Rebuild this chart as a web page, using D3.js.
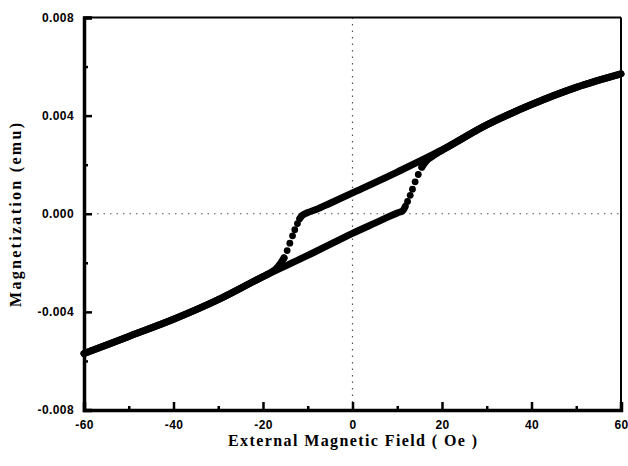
<!DOCTYPE html>
<html>
<head>
<meta charset="utf-8">
<script src="https://cdn.jsdelivr.net/npm/d3@7"></script>
<style>
  body { margin: 0; background: #fff; }
  svg { display: block; }
</style>
</head>
<body>
<div id="chart"></div>
<script>
var width = 628,
    height = 466;

var margin = {left: 84, top: 17.5, right: 7, bottom: 56};

// axis ticks
var xTicks = [-60, -40, -20, 0, 20, 40, 60];
var xTickLabels = ["-60", "-40", "-20", "0", "20", "40", "60"];
var xMinor = [-50, -30, -10, 10, 30, 50];
var yTicks = [-0.008, -0.004, 0, 0.004, 0.008];
var yTickLabels = ["-0.008", "-0.004", "0.000", "0.004", "0.008"];
var yMinor = [-0.006, -0.002, 0.002, 0.006];

// field sweep +60 -> -60 (upper branch)
var downField  = [60, 50, 40, 30, 20, 10, 0, -5, -8, -10, -11.2, -11.8];
var downMoment = [0.0057, 0.00515, 0.00445, 0.00362, 0.0026, 0.0017, 0.00085, 0.00043, 0.00018, 0.00005, -0.00006, -0.0002];
var downJumpField  = [-12.3, -12.9, -13.4, -14.0, -14.6, -15.3];
var downJumpMoment = [-0.0004, -0.00065, -0.0009, -0.0012, -0.0015, -0.0018];
var downTailField  = [-15.3, -16.2, -17.3, -18.8, -20, -30, -40, -50, -60];
var downTailMoment = [-0.0018, -0.00205, -0.00228, -0.00245, -0.00256, -0.0035, -0.0043, -0.0050, -0.0057];

// field sweep -60 -> +60 (lower branch)
var upField  = [-60, -50, -40, -30, -20, -10, 0, 5, 8, 10, 11.2, 11.8];
var upMoment = [-0.0057, -0.0050, -0.0043, -0.0035, -0.00256, -0.0017, -0.0008, -0.00038, -0.00013, 0.00003, 0.00012, 0.0003];
var upJumpField  = [12.3, 12.9, 13.4, 14.0, 14.7, 15.5];
var upJumpMoment = [0.0005, 0.00075, 0.001, 0.0013, 0.0016, 0.0019];
var upTailField  = [15.5, 16.5, 17.5, 19, 20, 30, 40, 50, 60];
var upTailMoment = [0.0019, 0.00215, 0.0023, 0.00248, 0.00258, 0.00362, 0.00445, 0.00515, 0.0057];

var svg = d3.select("#chart").append("svg")
    .attr("width", width)
    .attr("height", height);

var x = d3.scaleLinear().domain([-60, 60]).range([margin.left, width - margin.right]);
var y = d3.scaleLinear().domain([-0.008, 0.008]).range([height - margin.bottom, margin.top]);

function zip(a, b) { return a.map(function(v, i) { return [v, b[i]]; }); }

//dotted zero lines
svg.append("line")
    .attr("x1", x(0)).attr("x2", x(0))
    .attr("y1", y(0.008)).attr("y2", y(-0.008))
    .attr("stroke", "#555").attr("stroke-width", 1.2)
    .attr("stroke-dasharray", "1.5,5");
svg.append("line")
    .attr("x1", x(-60)).attr("x2", x(60))
    .attr("y1", y(0)).attr("y2", y(0))
    .attr("stroke", "#555").attr("stroke-width", 1.2)
    .attr("stroke-dasharray", "1.5,5");

//data
var line = d3.line()
    .x(function(d) { return x(d[0]); })
    .y(function(d) { return y(d[1]); })
    .curve(d3.curveCatmullRom);

var segs = [zip(downField, downMoment), zip(downTailField, downTailMoment),
            zip(upField, upMoment), zip(upTailField, upTailMoment)];

svg.append("g").selectAll("path")
    .data(segs)
  .enter().append("path")
    .attr("d", line)
    .attr("fill", "none")
    .attr("stroke", "#000")
    .attr("stroke-width", 7)
    .attr("stroke-linecap", "round");

var dots = zip(downJumpField, downJumpMoment).concat(zip(upJumpField, upJumpMoment));
svg.append("g").selectAll("circle")
    .data(dots)
  .enter().append("circle")
    .attr("cx", function(d) { return x(d[0]); })
    .attr("cy", function(d) { return y(d[1]); })
    .attr("r", 3.4)
    .attr("fill", "#000");

//frame
svg.append("line").attr("x1", x(-60)).attr("x2", x(60)).attr("y1", y(0.008)).attr("y2", y(0.008))
    .attr("stroke", "#000").attr("stroke-width", 2);
svg.append("line").attr("x1", x(60)).attr("x2", x(60)).attr("y1", y(0.008)).attr("y2", y(-0.008))
    .attr("stroke", "#000").attr("stroke-width", 2);

//axes
var tickFont = "'Liberation Sans', Arial, sans-serif";

svg.append("g")
    .attr("transform", "translate(0," + y(-0.008) + ")")
    .call(d3.axisBottom(x).tickValues(xTicks).tickSize(-8).tickPadding(10)
        .tickFormat(function(d, i) { return xTickLabels[i]; }));
svg.append("g")
    .attr("transform", "translate(0," + y(-0.008) + ")")
    .call(d3.axisBottom(x).tickValues(xMinor).tickSize(-4).tickFormat(""))
    .select(".domain").remove();

svg.append("g")
    .attr("transform", "translate(" + x(-60) + ",0)")
    .call(d3.axisLeft(y).tickValues(yTicks).tickSize(-8).tickPadding(10)
        .tickFormat(function(d, i) { return yTickLabels[i]; }));
svg.append("g")
    .attr("transform", "translate(" + x(-60) + ",0)")
    .call(d3.axisLeft(y).tickValues(yMinor).tickSize(-4).tickFormat(""))
    .select(".domain").remove();

svg.selectAll(".domain").attr("stroke", "#000").attr("stroke-width", 3.5);
svg.selectAll(".tick line").attr("stroke", "#000").attr("stroke-width", 2.5);
svg.selectAll(".tick text")
    .attr("fill", "#000")
    .style("font-family", tickFont)
    .style("font-weight", "bold")
    .style("font-size", "12px")
    .style("letter-spacing", "0.4px");

//axis titles
svg.append("text")
    .attr("x", (x(-60) + x(60)) / 2)
    .attr("y", 446)
    .attr("text-anchor", "middle")
    .attr("textLength", 249)
    .attr("lengthAdjust", "spacing")
    .style("font-family", "'Liberation Serif', 'Times New Roman', serif")
    .style("font-weight", "bold")
    .style("font-size", "16px")
    .text("External Magnetic Field ( Oe )");

svg.append("text")
    .attr("transform", "translate(21,215) rotate(-90)")
    .attr("text-anchor", "middle")
    .attr("textLength", 184)
    .attr("lengthAdjust", "spacing")
    .style("font-family", "'Liberation Serif', 'Times New Roman', serif")
    .style("font-weight", "bold")
    .style("font-size", "16px")
    .text("Magnetization (emu)");
</script>
</body>
</html>
